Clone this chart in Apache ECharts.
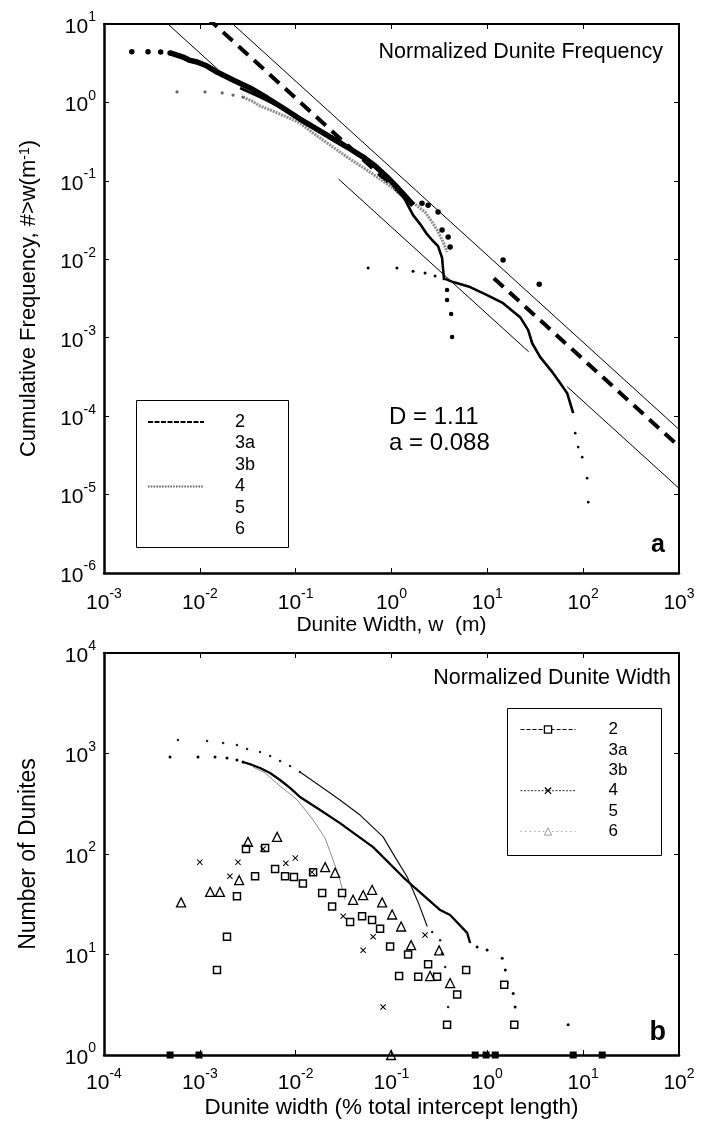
<!DOCTYPE html>
<html>
<head>
<meta charset="utf-8">
<script src="https://cdn.jsdelivr.net/npm/echarts@6/dist/echarts.min.js"></script>
<style>
  html, body { margin: 0; padding: 0; background: #fff; }
  #chart { width: 701px; height: 1123px; }
</style>
</head>
<body>
<div id="chart"></div>
<script>
// ---------- Panel a: cumulative frequency of dunite widths, [w (m), N (#>w per m)] ----------
const seriesNames = ['2', '3a', '3b', '4', '5', '6'];

const freq2Sparse = [[0.00195, 4.43], [0.00288, 4.43], [0.0039, 4.39], [0.00489, 4.27]];
const freq2Band = [[0.00489, 4.27], [0.00578, 4.02], [0.00668, 3.79], [0.00771, 3.47], [0.00935, 3.28],
  [0.0119, 2.91], [0.0151, 2.44], [0.0222, 1.93], [0.0334, 1.53], [0.0503, 1.14], [0.0738, 0.849],
  [0.111, 0.614], [0.160, 0.471], [0.229, 0.362], [0.344, 0.270], [0.506, 0.201], [0.675, 0.155],
  [0.90, 0.112], [1.14, 0.083], [1.39, 0.064], [1.68, 0.049]];
const freq2Tail = [[2.08, 0.052], [2.41, 0.049], [3.06, 0.040], [3.37, 0.0236], [3.90, 0.0192],
  [4.09, 0.0143], [14.6, 0.0098], [34.8, 0.0048]];

const freq3a = [[0.0263, 1.53], [0.0425, 1.17], [0.0687, 0.873], [0.111, 0.632], [0.180, 0.445],
  [0.290, 0.322], [0.470, 0.213], [0.760, 0.133], [1.09, 0.0834], [1.39, 0.0569], [1.68, 0.0366],
  [1.99, 0.0281], [2.30, 0.0216], [2.65, 0.0176], [3.06, 0.0147], [3.37, 0.0104], [3.46, 0.00728],
  [3.54, 0.00543]];
const freq3b = [[3.80, 0.00405], [3.80, 0.00302], [4.19, 0.0020], [4.29, 0.00102]];

const freq4Sparse = [[0.00578, 1.36], [0.01133, 1.36], [0.0171, 1.32], [0.0222, 1.24], [0.0282, 1.17]];
const freq4Band = [[0.0282, 1.17], [0.0351, 1.04], [0.0425, 0.90], [0.058, 0.776], [0.0813, 0.651],
  [0.111, 0.546], [0.152, 0.407], [0.229, 0.286], [0.344, 0.201], [0.598, 0.129], [0.966, 0.0859],
  [1.56, 0.0569], [2.24, 0.040], [2.65, 0.0298], [2.99, 0.0236], [3.46, 0.0166], [3.80, 0.0124]];

const freq5Sparse = [[0.570, 0.00772], [1.14, 0.00772], [1.68, 0.00706], [2.24, 0.00667], [2.85, 0.0061]];
const freq5Line = [[3.46, 0.00575], [4.40, 0.00512], [6.61, 0.00442], [9.95, 0.00349], [14.6, 0.00276],
  [22.0, 0.00183], [26.7, 0.00125], [29.4, 0.00085], [35.6, 0.000566], [48.6, 0.000353],
  [57.5, 0.000264], [68.1, 0.000196], [78.7, 0.000109]];
const freq5Tail = [[82.6, 6.07e-5], [88.7, 4.03e-5], [97.7, 3.0e-5], [110, 1.62e-5], [113, 8.0e-6]];

// power-law fit N = a * w^-D and its two bounding lines
const fitD = 1.11;
const fitA = 0.088;
const boundUpperA = 0.145;
const boundLowerA = 0.0257;
const fitRanges = [[0.012, 1.5], [11.7, 1000]];
const boundUpperRanges = [[0.02, 1000]];
const boundLowerRanges = [[0.004, 0.0155], [0.28, 27], [68, 1000]];

// ---------- Panel b: number of dunites vs normalized width, [width (%), count] ----------
const count2 = [[0.00151, 7], [0.00192, 15], [0.00244, 38], [0.00303, 112], [0.00377, 60], [0.0048, 115],
  [0.0061, 71], [0.00775, 60], [0.0096, 59], [0.0119, 51], [0.0152, 66], [0.0189, 41], [0.024, 30],
  [0.0305, 41], [0.037, 21], [0.0493, 24], [0.0627, 22], [0.076, 18], [0.0967, 12], [0.12, 6.1],
  [0.149, 10], [0.19, 6], [0.241, 8], [0.299, 6], [0.38, 2], [0.484, 4], [0.601, 7], [1.5, 5], [1.91, 2]];
const count2Single = [[0.000489, 1], [0.00098, 1], [0.747, 1], [0.97, 1], [1.21, 1], [7.87, 1], [15.8, 1]];
const count4 = [[0.001, 83], [0.00206, 60], [0.0025, 83], [0.00457, 112], [0.0079, 81], [0.0099, 91],
  [0.0148, 66], [0.0313, 24], [0.0506, 11], [0.0643, 15], [0.0817, 3.0], [0.224, 15.6]];
const count6 = [[0.000637, 33], [0.00128, 42], [0.00162, 42], [0.00257, 55], [0.00318, 132], [0.0064, 148],
  [0.0203, 74], [0.0258, 65], [0.0397, 35], [0.0506, 39], [0.0627, 44], [0.0798, 33], [0.1015, 25],
  [0.126, 19], [0.16, 12.4], [0.253, 6.1], [0.314, 11], [0.409, 5.2], [0.099, 1]];

const count3aSparse = [[0.000489, 923], [0.000957, 923], [0.00144, 923], [0.00192, 902], [0.00244, 861], [0.00282, 823]];
const count3aLine = [[0.00282, 823], [0.00351, 769], [0.00425, 718], [0.00541, 640], [0.00687, 545],
  [0.00874, 454], [0.0111, 369], [0.0180, 274], [0.0290, 203], [0.0643, 117], [0.132, 59], [0.176, 45.9],
  [0.322, 27.7], [0.409, 24.7], [0.616, 16.4], [0.661, 13.0]];
const count3aTail = [[0.783, 11.9], [0.995, 11.1], [1.43, 9.2], [1.54, 7.0], [1.61, 5.2], [1.86, 4.1], [1.95, 3.0], [6.97, 2]];

const count3bSparse = [[0.000591, 1362], [0.00119, 1331], [0.00175, 1271], [0.00244, 1216], [0.00311, 1109],
  [0.00425, 1035], [0.00541, 944], [0.00687, 842], [0.00874, 751], [0.0111, 654]];
const count3bLine = [[0.0111, 654], [0.0180, 475], [0.0290, 345], [0.0470, 244], [0.0817, 148], [0.109, 93],
  [0.146, 59], [0.190, 33], [0.236, 19]];
const count3bTail = [[0.266, 16.7], [0.322, 13.9], [0.337, 10.3], [0.363, 7.5], [0.390, 3.0]];

const count5 = [[0.00359, 734], [0.0048, 640], [0.00687, 475], [0.0104, 345], [0.0152, 218], [0.0203, 144],
  [0.0246, 87], [0.0290, 55], [0.0328, 35]];

// ---------- text ----------
const titleA = 'Normalized Dunite Frequency';
const titleB = 'Normalized Dunite Width';
const xNameA = 'Dunite Width, w  (m)';
const yNameA = 'Cumulative Frequency, #>w(m{s|-1})';
const xNameB = 'Dunite width (% total intercept length)';
const yNameB = 'Number of Dunites';

// ---------- drawing ----------
const FONT = '"Liberation Sans", Arial, Helvetica, sans-serif';
const chart = echarts.init(document.getElementById('chart'), null, { renderer: 'canvas' });

function powLabel(v) {
  const e = Math.round(Math.log10(v));
  return '{b|10}{e|' + (e < 0 ? '-' + (-e) : e) + '}';
}
const powRich = {
  b: { fontSize: 21, fontFamily: FONT, color: '#000', lineHeight: 27, verticalAlign: 'bottom' },
  e: { fontSize: 14, fontFamily: FONT, color: '#000', lineHeight: 14, verticalAlign: 'top' }
};

function mainAxis(gridIndex, min, max, splits, pos, name, nameSize, nameGap, labelMargin, lineWidth) {
  return {
    type: 'log', logBase: 10, gridIndex, min, max, splitNumber: splits, position: pos,
    name, nameLocation: 'middle', nameGap,
    nameTextStyle: { fontSize: nameSize, fontFamily: FONT, color: '#000',
      rich: { s: { fontSize: Math.round(nameSize * 0.65), fontFamily: FONT, color: '#000',
        lineHeight: Math.round(nameSize * 0.65), verticalAlign: 'top' } } },
    axisLine: { show: true, lineStyle: { color: '#000', width: lineWidth } },
    axisTick: { show: true, inside: true, length: 5, lineStyle: { color: '#000', width: 1 } },
    minorTick: { show: false },
    splitLine: { show: false },
    axisLabel: { show: true, margin: labelMargin, formatter: powLabel, rich: powRich,
      showMinLabel: true, showMaxLabel: true, hideOverlap: false }
  };
}
function mirrorAxis(gridIndex, min, max, splits, pos) {
  return {
    type: 'log', logBase: 10, gridIndex, min, max, splitNumber: splits, position: pos,
    axisLine: { show: true, lineStyle: { color: '#000', width: 2 } },
    axisTick: { show: true, inside: true, length: 5, lineStyle: { color: '#000', width: 1 } },
    axisLabel: { show: false }, splitLine: { show: false }
  };
}

function pts(name, data, size, color, axis, extra) {
  return Object.assign({
    name, type: 'line', data, xAxisIndex: axis, yAxisIndex: axis,
    symbol: 'circle', symbolSize: size, showAllSymbol: true,
    itemStyle: { color, borderWidth: 0 }, lineStyle: { width: 0, color },
    silent: true, animation: false, z: 3
  }, extra || {});
}
function curve(name, data, width, color, axis, type, extra) {
  return Object.assign({
    name, type: 'line', data, xAxisIndex: axis, yAxisIndex: axis,
    symbol: 'none', lineStyle: { width, color, type: type || 'solid' },
    itemStyle: { color }, silent: true, animation: false, z: 2
  }, extra || {});
}
function fitSegments(name, a, ranges, width, type) {
  return ranges.map(r => curve(name, [[r[0], a * Math.pow(r[0], -fitD)], [r[1], a * Math.pow(r[1], -fitD)]],
    width, '#000', 0, type, { z: 1 }));
}

const xCross = 'path://M0,1.2L1.2,0L5,3.8L8.8,0L10,1.2L6.2,5L10,8.8L8.8,10L5,6.2L1.2,10L0,8.8L3.8,5Z';

const series = [
  // panel b markers (listed first so their legend icons come from these)
  pts('2', count2, 7, '#000', 2, { symbol: 'rect', itemStyle: { color: '#fff', borderColor: '#000', borderWidth: 1.5 }, z: 5 }),
  pts('4', count4, 6, '#000', 2, { symbol: xCross, z: 6 }),
  pts('6', count6, 9, '#000', 2, { symbol: 'triangle', itemStyle: { color: 'rgba(255,255,255,0)', borderColor: '#000', borderWidth: 1.3 }, z: 5, clip: false }),
  pts('2', count2Single, 7, '#000', 2, { symbol: 'rect', clip: false, z: 7 }),
  // panel b curves
  pts('3a', count3aSparse, 3, '#000', 2),
  curve('3a', count3aLine, 2.3, '#000', 2),
  pts('3a', count3aTail, 3, '#000', 2),
  pts('3b', count3bSparse, 2.5, '#222', 2),
  curve('3b', count3bLine, 1.2, '#111', 2),
  pts('3b', count3bTail, 2.5, '#222', 2),
  curve('5', count5, 1, '#8c8c8c', 2),

  // panel a fit lines
  ...fitSegments('fit', fitA, fitRanges, 4, [13, 8]),
  ...fitSegments('bound', boundUpperA, boundUpperRanges, 1, 'solid'),
  ...fitSegments('bound', boundLowerA, boundLowerRanges, 1, 'solid'),
  // panel a data
  curve('4', freq4Band, 3, '#8f8f8f', 0, [2, 1]),
  pts('4', freq4Sparse, 3.2, '#666', 0),
  curve('2', freq2Band, 5.5, '#000', 0),
  pts('2', freq2Sparse, 5.5, '#000', 0),
  pts('2', freq2Tail, 5.5, '#000', 0),
  curve('3a', freq3a, 2.6, '#000', 0),
  pts('3b', freq3b, 4.5, '#000', 0),
  pts('5', freq5Sparse, 3, '#000', 0),
  curve('5', freq5Line, 2.6, '#000', 0),
  pts('5', freq5Tail, 2.6, '#000', 0)
];

function dashPath(on, off, total) {
  let p = 'path://';
  for (let x = 0; x < total; x += on + off) p += 'M' + x + ',0h' + Math.min(on, total - x) + 'v2h-' + Math.min(on, total - x) + 'z';
  return p;
}

const legendA = {
  orient: 'vertical', left: 143, top: 408, itemWidth: 56, itemHeight: 2, itemGap: 3.5,
  symbolKeepAspect: false, selectedMode: false,
  textStyle: { fontSize: 18, fontFamily: FONT, color: '#000', lineHeight: 18, padding: [0, 0, 0, 26] },
  data: seriesNames.map(n => {
    if (n === '2') return { name: n, icon: dashPath(5, 1.5, 56), itemStyle: { color: '#000', borderWidth: 0 } };
    if (n === '4') return { name: n, icon: dashPath(1.6, 1.2, 56), itemStyle: { color: '#666', borderWidth: 0 } };
    return { name: n, icon: 'none' };
  })
};
const legendB = {
  orient: 'vertical', left: 515, top: 716, itemWidth: 55, itemHeight: 9, itemGap: 3.4,
  selectedMode: false,
  textStyle: { fontSize: 17, fontFamily: FONT, color: '#000', lineHeight: 17, padding: [0, 0, 0, 28] },
  data: seriesNames.map(n => {
    if (n === '2') return { name: n, lineStyle: { color: '#000', width: 1, type: [4, 2], opacity: 1 },
      itemStyle: { color: '#fff', borderColor: '#000', borderWidth: 1.3, opacity: 1 } };
    if (n === '4') return { name: n, lineStyle: { color: '#333', width: 1, type: [2, 1.5], opacity: 1 },
      itemStyle: { color: '#000', borderWidth: 0, opacity: 1 } };
    if (n === '6') return { name: n, lineStyle: { color: '#aaa', width: 1, type: [1.5, 3], opacity: 1 },
      itemStyle: { color: '#fff', borderColor: '#999', borderWidth: 1, opacity: 1 } };
    return { name: n, icon: 'none' };
  })
};

const option = {
  backgroundColor: '#fff',
  animation: false,
  textStyle: { fontFamily: FONT },
  grid: [
    { left: 104, top: 24, width: 575, height: 549 },
    { left: 104, top: 653, width: 575, height: 402 }
  ],
  xAxis: [
    mainAxis(0, 1e-3, 1e3, 6, 'bottom', xNameA, 21, 42, 14, 2.5),
    mirrorAxis(0, 1e-3, 1e3, 6, 'top'),
    mainAxis(1, 1e-4, 1e2, 6, 'bottom', xNameB, 22.5, 41, 12, 2.5),
    mirrorAxis(1, 1e-4, 1e2, 6, 'top')
  ],
  yAxis: [
    mainAxis(0, 1e-6, 1e1, 7, 'left', yNameA, 22, 64, 8, 2.5),
    mirrorAxis(0, 1e-6, 1e1, 7, 'right'),
    mainAxis(1, 1e0, 1e4, 4, 'left', yNameB, 23, 64, 8, 2.5),
    mirrorAxis(1, 1e0, 1e4, 4, 'right')
  ],
  legend: [legendA, legendB],
  series,
  graphic: [
    { type: 'rect', shape: { x: 136.5, y: 400.5, width: 152, height: 147 }, style: { fill: 'none', stroke: '#000', lineWidth: 1 }, z: 10 },
    { type: 'rect', shape: { x: 507.5, y: 708.5, width: 154, height: 147 }, style: { fill: 'none', stroke: '#000', lineWidth: 1 }, z: 10 },
    { type: 'text', x: 663, y: 52, style: { text: titleA, font: '21.5px ' + FONT, fill: '#000', align: 'right', verticalAlign: 'middle' }, z: 10 },
    { type: 'text', x: 671, y: 678, style: { text: titleB, font: '21.5px ' + FONT, fill: '#000', align: 'right', verticalAlign: 'middle' }, z: 10 },
    { type: 'text', x: 389, y: 417, style: { text: 'D = ' + fitD.toFixed(2), font: '24px ' + FONT, fill: '#000', align: 'left', verticalAlign: 'middle' }, z: 10 },
    { type: 'text', x: 389, y: 443, style: { text: 'a = ' + fitA.toFixed(3), font: '24px ' + FONT, fill: '#000', align: 'left', verticalAlign: 'middle' }, z: 10 },
    { type: 'text', x: 665, y: 545, style: { text: 'a', font: 'bold 25px ' + FONT, fill: '#000', align: 'right', verticalAlign: 'middle' }, z: 10 },
    { type: 'text', x: 666, y: 1033, style: { text: 'b', font: 'bold 27px ' + FONT, fill: '#000', align: 'right', verticalAlign: 'middle' }, z: 10 }
  ]
};

chart.setOption(option);
</script>
</body>
</html>
